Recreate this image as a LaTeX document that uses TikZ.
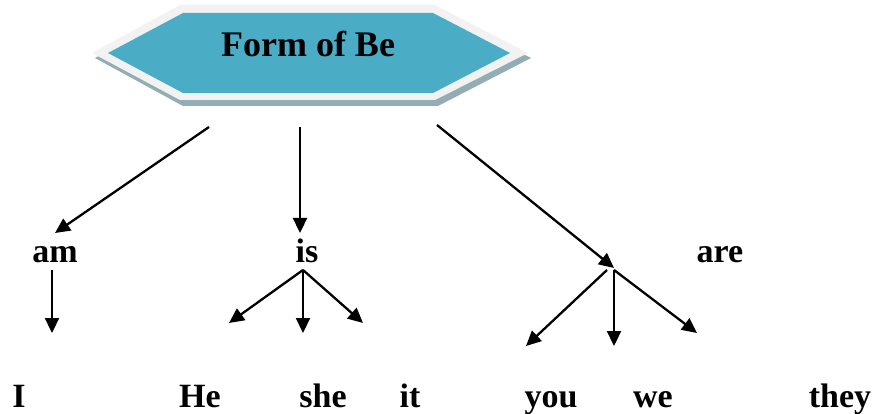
\documentclass[tikz,border=0pt]{standalone}
\usepackage{fontspec}
\setmainfont{Liberation Serif}
\usetikzlibrary{arrows.meta}
\definecolor{hexfill}{HTML}{4BACC6}
\definecolor{hexrim}{HTML}{F2F2F2}
\definecolor{hexshadow}{HTML}{92ADB3}
\tikzset{
  word/.style={anchor=base,inner sep=0pt,font=\fontsize{34}{34}\selectfont\bfseries},
  branch/.style={line width=2.3pt,-{Triangle[length=15pt,width=14pt]}}
}
\begin{document}
\begin{tikzpicture}[x=1pt,y=-1pt]
\useasboundingbox (0,0) rectangle (878,414);
% title hexagon
\fill[hexshadow] (95,58)--(183,10)--(438,10)--(531,58)--(438,106)--(183,106)--cycle;
\fill[hexrim] (92,53)--(180,5)--(435,5)--(528,53)--(435,100)--(180,100)--cycle;
\fill[hexfill] (108,53)--(183,13)--(433,13)--(510,53)--(433,93)--(183,93)--cycle;
\node[anchor=base,inner sep=0pt,font=\fontsize{36}{36}\selectfont\bfseries] (title) at (308,57) {Form of Be};
% words
\node[word] (am) at (55,262) {am};
\node[word] (is) at (307,262) {is};
\node[word] (are) at (720,262) {are};
\node[word] (I) at (19,407) {I};
\node[word] (He) at (200,407) {He};
\node[word] (she) at (323,407) {she};
\node[word] (it) at (410,407) {it};
\node[word] (you) at (551,407) {you};
\node[word] (we) at (653,407) {we};
\node[word] (they) at (840,407) {they};
% arrow ends
\coordinate (t1) at (209,127);
\coordinate (t2) at (300,127);
\coordinate (t3) at (437,125);
\coordinate (amhead) at (55,233);
\coordinate (ishead) at (300,233);
\coordinate (arehead) at (614,268);
\coordinate (amfoot) at (52,270);
\coordinate (Iend) at (52,333);
\coordinate (isfoot) at (303,270);
\coordinate (Heend) at (229,323);
\coordinate (sheend) at (303,333);
\coordinate (itend) at (363,323);
\coordinate (arefoot) at (614,270);
\coordinate (arefootl) at (607,270);
\coordinate (youend) at (526,346);
\coordinate (weend) at (614,346);
\coordinate (theyend) at (697,333);
% connectors
\draw[branch] (t1) -- (amhead);
\draw[branch] (t2) -- (ishead);
\draw[branch] (t3) -- (arehead);
\draw[branch] (amfoot) -- (Iend);
\draw[branch] (isfoot) -- (Heend);
\draw[branch] (isfoot) -- (sheend);
\draw[branch] (isfoot) -- (itend);
\draw[branch] (arefootl) -- (youend);
\draw[branch] (arefoot) -- (weend);
\draw[branch] (arefoot) -- (theyend);
\end{tikzpicture}
\end{document}
